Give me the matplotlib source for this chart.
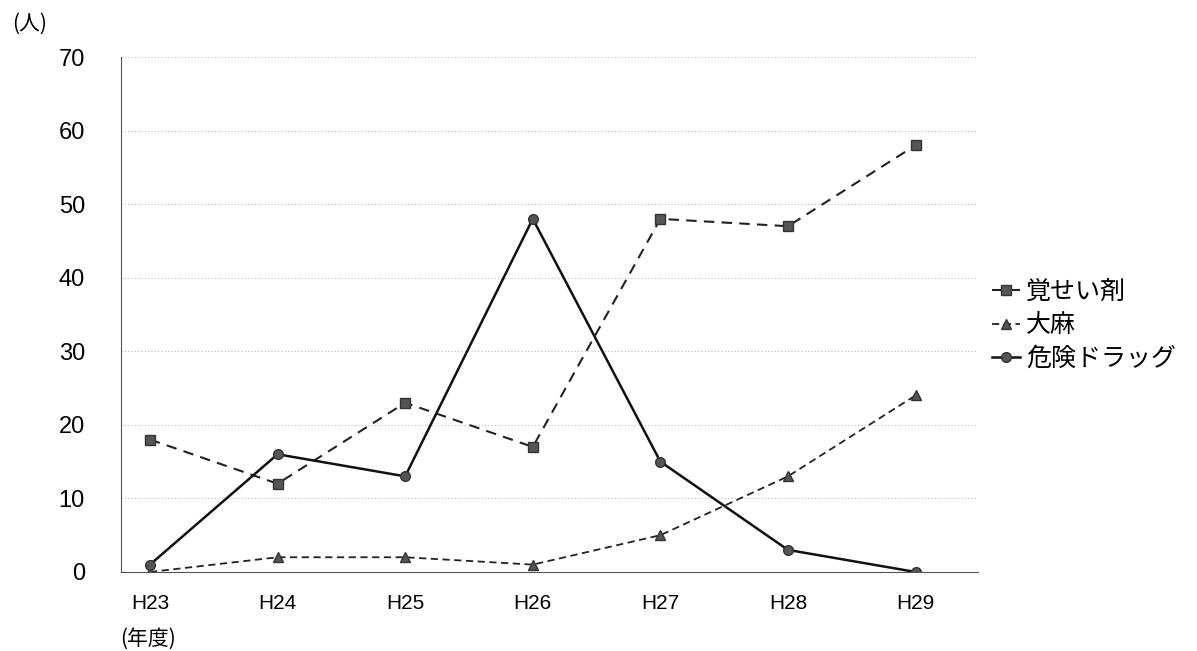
import numpy as np
import matplotlib
matplotlib.use('Agg')
import matplotlib.pyplot as plt

plt.rcParams['font.family'] = ['Liberation Sans', 'Noto Sans CJK JP', 'DejaVu Sans']

years = ['H23', 'H24', 'H25', 'H26', 'H27', 'H28', 'H29']
kakuseizai = [18, 12, 23, 17, 48, 47, 58]
taima = [0, 2, 2, 1, 5, 13, 24]
kiken_drug = [1, 16, 13, 48, 15, 3, 0]

x = np.arange(len(years))

fig = plt.figure(figsize=(11.97, 6.51), dpi=100)
ax = fig.add_axes([0.1011, 0.1214, 0.716, 0.791])

ax.plot(x, kakuseizai, color='#222222', lw=1.5, ls=(0, (5, 3.5)),
        marker='s', ms=7, mfc='#555555', mec='#333333', label='覚せい剤')
ax.plot(x, taima, color='#222222', lw=1.3, ls=(0, (4, 2.5)),
        marker='^', ms=7, mfc='#555555', mec='#333333', label='大麻')
ax.plot(x, kiken_drug, color='#111111', lw=1.8, ls='-',
        marker='o', ms=7, mfc='#555555', mec='#333333', label='危険ドラッグ')

ax.set_xlim(-0.227, 6.49)
ax.set_ylim(0, 70)
ax.set_yticks(range(0, 71, 10))
ax.set_xticks(x)
ax.set_xticklabels(years)
ax.tick_params(axis='y', length=0, labelsize=17, colors='black', pad=26)
ax.tick_params(axis='x', length=0, labelsize=15, colors='black', pad=16)
ax.grid(axis='y', color='#bbbbbb', ls=(0, (1, 2)), lw=0.8)
for s in ['top', 'right']:
    ax.spines[s].set_visible(False)
ax.spines['left'].set_color('#555555')
ax.spines['bottom'].set_color('#555555')
ax.set_axisbelow(True)

fig.text(0.01, 0.955, '(人)', fontsize=15, family=['Noto Sans CJK JP'])
fig.text(0.1, 0.01, '(年度)', fontsize=15, family=['Noto Sans CJK JP'])

fig.legend(loc='center left', bbox_to_anchor=(0.829, 0.50), frameon=False,
           borderpad=0, borderaxespad=0,
           handlelength=1.1, handletextpad=0.25, labelspacing=0.3,
           prop={'family': 'Noto Sans CJK JP', 'size': 18})

fig.savefig('out.png', dpi=100)
